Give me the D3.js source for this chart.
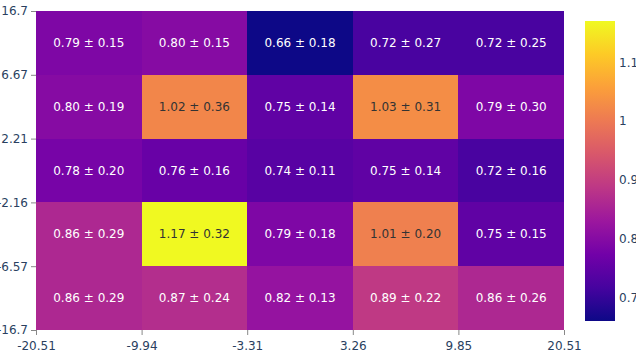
<!DOCTYPE html>
<html>
<head>
<meta charset="utf-8">
<script src="https://cdn.jsdelivr.net/npm/d3@7"></script>
<style>
  html, body { margin: 0; padding: 0; background: #fff; }
  svg { display: block; }
  text { font-family: "DejaVu Sans", Verdana, sans-serif; }
</style>
</head>
<body>
<svg id="chart" width="636" height="359"></svg>
<script>
// ---- data ----
const xEdges = ["-20.51", "-9.94", "-3.31", "3.26", "9.85", "20.51"];
const yEdges = ["16.7", "6.67", "2.21", "-2.16", "-6.57", "-16.7"]; // top to bottom
const meanRows = [
  [0.79, 0.80, 0.66, 0.72, 0.72],
  [0.80, 1.02, 0.75, 1.03, 0.79],
  [0.78, 0.76, 0.74, 0.75, 0.72],
  [0.86, 1.17, 0.79, 1.01, 0.75],
  [0.86, 0.87, 0.82, 0.89, 0.86]
];
const stdRows = [
  [0.15, 0.15, 0.18, 0.27, 0.25],
  [0.19, 0.36, 0.14, 0.31, 0.30],
  [0.20, 0.16, 0.11, 0.14, 0.16],
  [0.29, 0.32, 0.18, 0.20, 0.15],
  [0.29, 0.24, 0.13, 0.22, 0.26]
];
const colorTicks = [0.7, 0.8, 0.9, 1, 1.1];
const plasma = ['#0d0887', '#46039f', '#7201a8', '#9c179e', '#bd3786',
                '#d8576b', '#ed7953', '#fb9f3a', '#fdca26', '#f0f921'];

// ---- layout ----
const svg = d3.select("#chart");
const plot = { left: 36, right: 564, top: 11, bottom: 330 };
const cb = { left: 585, right: 615, top: 21, bottom: 321 };

const colIdx = d3.range(xEdges.length - 1);
const rowIdx = d3.range(yEdges.length - 1);

const x = d3.scaleBand().domain(colIdx).range([plot.left, plot.right]).padding(0);
const y = d3.scaleBand().domain(rowIdx).range([plot.top, plot.bottom]).padding(0);
const xEdge = d3.scalePoint().domain(xEdges).range([plot.left, plot.right]);
const yEdge = d3.scalePoint().domain(yEdges).range([plot.top, plot.bottom]);

const all = meanRows.flat();
const zmin = d3.min(all), zmax = d3.max(all);
const color = d3.scaleLinear()
  .domain(plasma.map((_, i) => zmin + (zmax - zmin) * i / (plasma.length - 1)))
  .range(plasma)
  .interpolate(d3.interpolateRgb)
  .clamp(true);

const cells = [];
rowIdx.forEach(r => colIdx.forEach(c => cells.push({ r, c, v: meanRows[r][c], s: stdRows[r][c] })));

svg.append("g").selectAll("rect").data(cells).join("rect")
  .attr("x", d => x(d.c))
  .attr("y", d => y(d.r))
  .attr("width", x.bandwidth())
  .attr("height", y.bandwidth())
  .attr("fill", d => color(d.v))
  .attr("shape-rendering", "crispEdges");

svg.append("g").selectAll("text").data(cells).join("text")
  .attr("x", d => x(d.c) + x.bandwidth() / 2)
  .attr("y", d => y(d.r) + y.bandwidth() / 2)
  .attr("text-anchor", "middle")
  .attr("dominant-baseline", "central")
  .attr("font-size", 12)
  .attr("fill", d => d3.lab(color(d.v)).l < 60 ? "#ffffff" : "#333333")
  .text(d => `${d.v.toFixed(2)} ± ${d.s.toFixed(2)}`);

// ---- axes ----
const xAxis = d3.axisBottom(xEdge).tickSize(5).tickPadding(6);
const gx = svg.append("g").attr("transform", `translate(0,${plot.bottom})`).call(xAxis);
gx.select(".domain").remove();
gx.selectAll("line").attr("stroke", "#888");
gx.selectAll("text").attr("font-size", 12).attr("fill", "#2a3f5f").attr("font-family", "DejaVu Sans");

const yAxis = d3.axisLeft(yEdge).tickSize(5).tickPadding(3);
const gy = svg.append("g").attr("transform", `translate(${plot.left},0)`).call(yAxis);
gy.select(".domain").remove();
gy.selectAll("line").attr("stroke", "#888");
gy.selectAll("text").attr("font-size", 12).attr("fill", "#2a3f5f").attr("font-family", "DejaVu Sans");

// ---- colorbar ----
const defs = svg.append("defs");
const grad = defs.append("linearGradient").attr("id", "cbgrad")
  .attr("x1", 0).attr("y1", 1).attr("x2", 0).attr("y2", 0);
grad.selectAll("stop").data(plasma).join("stop")
  .attr("offset", (d, i) => i / (plasma.length - 1))
  .attr("stop-color", d => d);
svg.append("rect")
  .attr("x", cb.left).attr("y", cb.top)
  .attr("width", cb.right - cb.left).attr("height", cb.bottom - cb.top)
  .attr("fill", "url(#cbgrad)");

const cbScale = d3.scaleLinear().domain([zmin, zmax]).range([cb.bottom, cb.top]);
const cbAxis = d3.axisRight(cbScale).tickValues(colorTicks).tickSize(0).tickPadding(4)
  .tickFormat(d3.format("~g"));
const gc = svg.append("g").attr("transform", `translate(${cb.right},0)`).call(cbAxis);
gc.select(".domain").remove();
gc.selectAll("text").attr("font-size", 12).attr("fill", "#2a3f5f").attr("font-family", "DejaVu Sans");
</script>
</body>
</html>
